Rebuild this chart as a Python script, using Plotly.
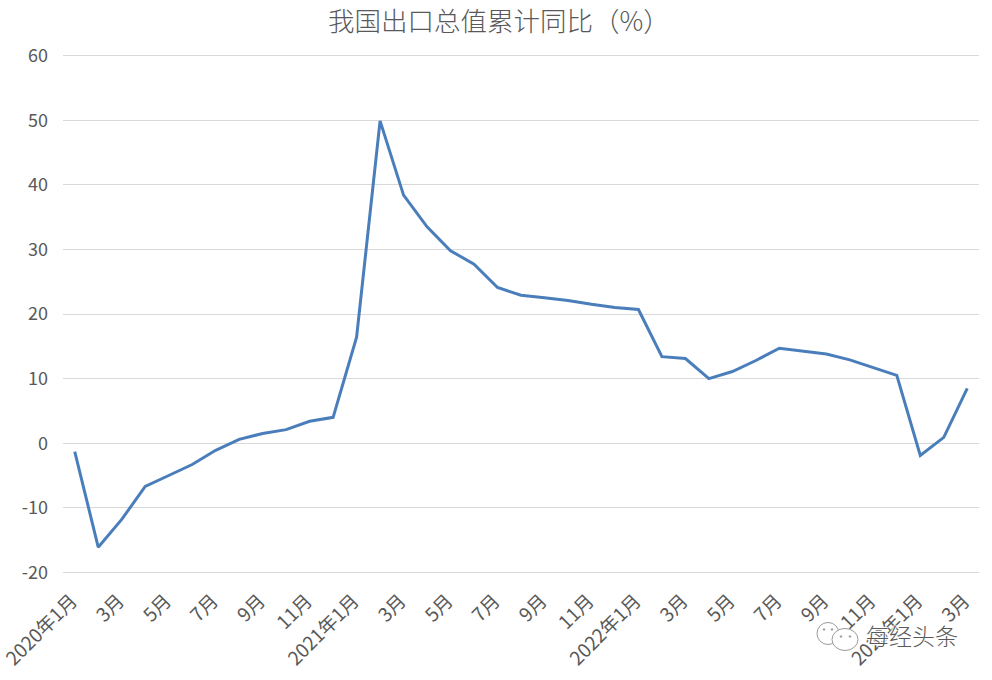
import plotly.graph_objects as go

months = ["2020年1月", "2月", "3月", "4月", "5月", "6月", "7月", "8月", "9月", "10月", "11月", "12月",
          "2021年1月", "2月", "3月", "4月", "5月", "6月", "7月", "8月", "9月", "10月", "11月", "12月",
          "2022年1月", "2月", "3月", "4月", "5月", "6月", "7月", "8月", "9月", "10月", "11月", "12月",
          "2023年1月", "2月", "3月"]
values = [-1.3, -16.1, -11.8, -6.7, -5.0, -3.3, -1.1, 0.6, 1.5, 2.1, 3.4, 4.0,
          16.4, 49.9, 38.4, 33.5, 29.8, 27.7, 24.1, 22.9, 22.5, 22.1, 21.5, 21.0,
          20.7, 13.4, 13.1, 10.0, 11.1, 12.8, 14.7, 14.2, 13.8, 12.9, 11.7, 10.5,
          -1.9, 0.9, 8.5]
y_ticks = [-20, -10, 0, 10, 20, 30, 40, 50, 60]
y_labels = ["-20", "-10", "0", "10", "20", "30", "40", "50", "60"]
idx = list(range(len(months)))
tick_idx = idx[::2]
tick_labels = months[::2]

FONT = "Noto Sans CJK SC"
GREY = "#595959"
L, R, T, B = 63, 979, 54.4, 573.6


def px(x):
    return (x - L) / (R - L)


def py(y):
    return (B - y) / (B - T)


def bubble(cx, cy, rx, ry, fill="white"):
    return dict(type="circle", xref="paper", yref="paper", layer="above",
                x0=px(cx - rx), x1=px(cx + rx), y0=py(cy + ry), y1=py(cy - ry),
                line=dict(color="#9a9a9a", width=1), fillcolor=fill)


fig = go.Figure(go.Scatter(x=idx, y=values, mode="lines",
                           line=dict(color="#4A7EBB", width=3), hoverinfo="skip"))
fig.update_layout(
    width=992, height=680, autosize=False,
    paper_bgcolor="white", plot_bgcolor="white", showlegend=False,
    margin=dict(l=L, r=992 - R, t=T, b=680 - B, autoexpand=False),
    font=dict(family=FONT, color=GREY, size=17),
    title=dict(text="我国出口总值累计同比（%）", x=0.503, xanchor="center", y=0.968, yanchor="middle",
               font=dict(family=FONT, size=26.5, color=GREY, weight=300)),
    xaxis=dict(range=[-0.5, 38.5], tickmode="array", tickvals=tick_idx, ticktext=tick_labels,
               tickangle=-45, showgrid=False, zeroline=False, showline=False, ticks="", automargin=False,
               ticklabelstandoff=11, ticklabelshift=-3, ticklabeloverflow="allow",
               tickfont=dict(size=19, color=GREY)),
    yaxis=dict(range=[-20.25, 60.25], tickmode="array", tickvals=y_ticks, ticktext=y_labels, showgrid=True,
               gridcolor="#D9D9D9", gridwidth=1, zeroline=False, showline=False, ticks="", automargin=False,
               ticklabelstandoff=14, tickfont=dict(size=18, color=GREY)),
    shapes=[bubble(828, 633, 11, 11), bubble(845, 639, 13, 11),
            bubble(824, 629, 0.8, 0.8, "#9a9a9a"), bubble(832, 629, 0.8, 0.8, "#9a9a9a"),
            bubble(841, 636, 0.8, 0.8, "#9a9a9a"), bubble(850, 636, 0.8, 0.8, "#9a9a9a")],
    annotations=[dict(text="每经头条", xref="paper", yref="paper", x=px(960), y=py(635),
                      xanchor="right", yanchor="middle", showarrow=False,
                      font=dict(family=FONT, size=23, color="#5a5a5a", weight=300,
                                shadow="1px 1px 1px white, -1px -1px 1px white, 1px -1px 1px white, -1px 1px 1px white"))],
)
fig.write_html("out.html", config={"displayModeBar": False},
               post_script="document.body.style.margin='0';window.dispatchEvent(new Event('resize'));")
